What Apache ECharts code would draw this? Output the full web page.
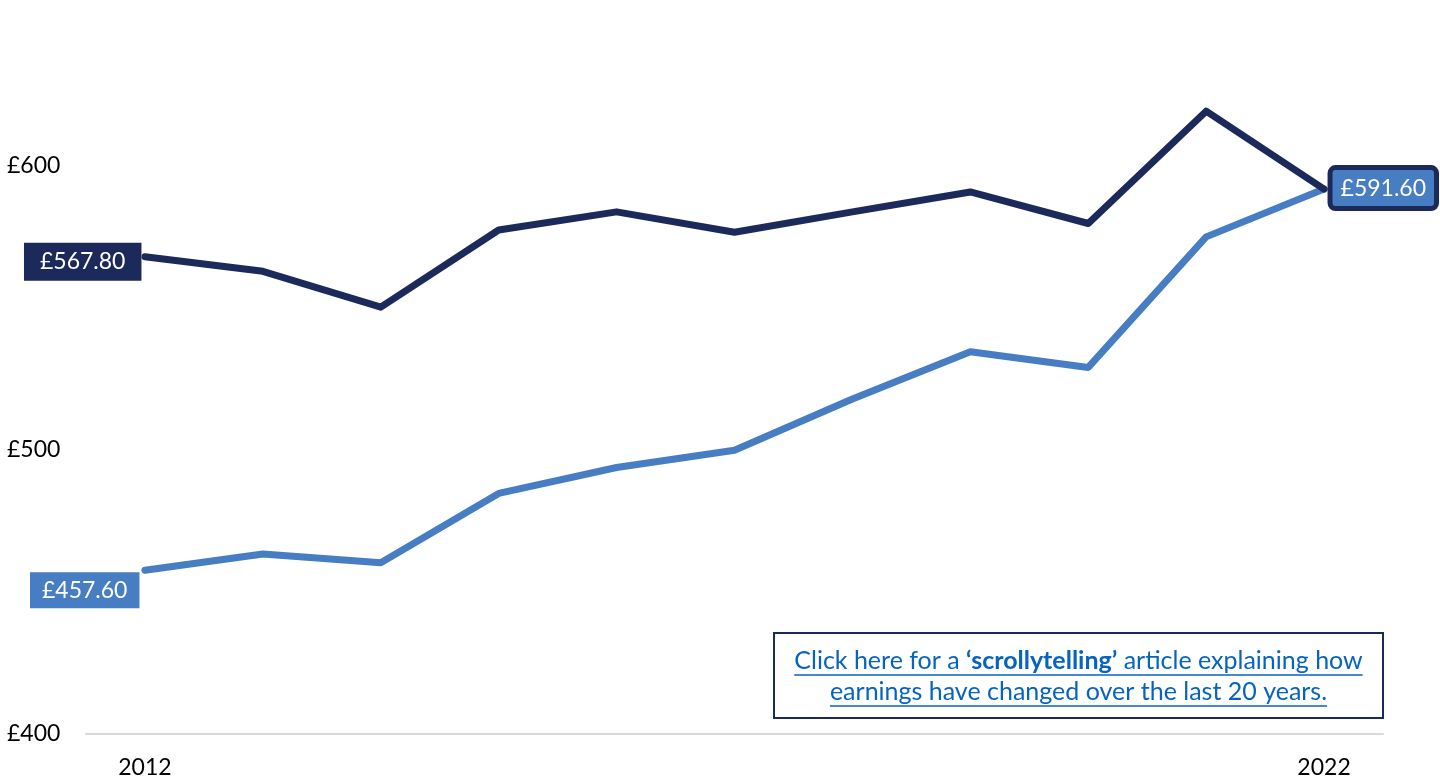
<!DOCTYPE html>
<html lang="en">
<head>
    <meta charset="UTF-8">
    <title>Weekly earnings</title>
    <style>
        * { padding: 0; margin: 0; }
        html, body { background: #ffffff; }
        #myChart { width: 1440px; height: 782px; }
    </style>
    <script src="https://cdn.jsdelivr.net/npm/echarts@6/dist/echarts.min.js"></script>
</head>
<body>
    <div id="myChart"></div>
    <script>
        // data
        const years = ['2012', '2013', '2014', '2015', '2016', '2017', '2018', '2019', '2020', '2021', '2022'];
        const darkValues = [567.8, 562.7, 550.1, 577.2, 583.6, 576.4, 583.6, 590.6, 579.5, 619.0, 591.6];
        const lightValues = [457.6, 463.3, 460.2, 484.6, 493.7, 499.8, 517.8, 534.4, 528.9, 574.8, 591.6];
        const yTicks = [400, 500, 600];

        const DARK = '#1c2a5b';
        const LIGHT = '#477dc2';
        const LINK = '#0563c1';
        const FONT = 'Lato';

        const fmt = v => '£' + v.toFixed(2);

        // which points carry a value box
        const darkLabels = {
            0: { position: 'left', distance: 3, offset: [0, 5], backgroundColor: DARK, padding: [7, 16, 5, 16] }
        };
        const lightLabels = {
            0: { position: 'left', distance: 5, offset: [0, 20], backgroundColor: LIGHT, padding: [6, 12, 4, 12] },
            10: { position: 'right', distance: 8, offset: [0, -1], backgroundColor: LIGHT, borderColor: DARK, borderWidth: 5,
                  borderRadius: 3, padding: [6, 8, 4, 8] }
        };

        function buildData(values, labels) {
            return values.map((v, i) => {
                if (!labels[i]) return v;
                return {
                    value: v,
                    label: Object.assign({
                        show: true,
                        formatter: p => fmt(p.value),
                        color: '#ffffff',
                        fontFamily: FONT,
                        fontSize: 23,
                        lineHeight: 26
                    }, labels[i])
                };
            });
        }

        // underline helper for the link box
        const ctx = document.createElement('canvas').getContext('2d');
        const LINK_SIZE = 25;
        function textWidth(str, weight) {
            ctx.font = weight + ' ' + LINK_SIZE + 'px ' + FONT;
            return ctx.measureText(str).width;
        }
        const line1 = ['Click here for a ', '‘scrollytelling’', ' article explaining how'];
        const line2 = 'earnings have changed over the last 20 years.';
        const w1 = textWidth(line1[0], 'normal') + textWidth(line1[1], 'bold') + textWidth(line1[2], 'normal');
        const w2 = textWidth(line2, 'normal');
        const boxCx = 1078.5;

        let myChart = echarts.init(document.getElementById('myChart'));
        let option = {
            backgroundColor: '#ffffff',
            animation: false,
            grid: {
                left: 86,
                right: 57,
                top: 23,
                bottom: 48
            },
            xAxis: {
                type: 'category',
                data: years,
                boundaryGap: true,
                axisLine: { lineStyle: { color: '#d9d9d9', width: 2 } },
                axisTick: { show: false },
                axisLabel: {
                    interval: (i) => i === 0 || i === years.length - 1,
                    color: '#000000',
                    fontFamily: FONT,
                    fontSize: 23,
                    margin: 22
                }
            },
            yAxis: {
                type: 'value',
                min: yTicks[0],
                max: 650,
                interval: yTicks[1] - yTicks[0],
                axisLine: { show: false },
                axisTick: { show: false },
                splitLine: { show: false },
                axisLabel: {
                    showMaxLabel: false,
                    align: 'left',
                    margin: 79,
                    color: '#000000',
                    fontFamily: FONT,
                    fontSize: 23,
                    formatter: v => yTicks.indexOf(v) >= 0 ? '£' + v : ''
                }
            },
            series: [{
                    name: 'Lower',
                    type: 'line',
                    data: buildData(lightValues, lightLabels),
                    symbol: 'circle',
                    symbolSize: 1,
                    showSymbol: true,
                    itemStyle: { color: LIGHT },
                    lineStyle: { color: LIGHT, width: 7, cap: 'round', join: 'round' },
                    z: 2
                },
                {
                    name: 'Upper',
                    type: 'line',
                    data: buildData(darkValues, darkLabels),
                    symbol: 'circle',
                    symbolSize: 1,
                    showSymbol: true,
                    itemStyle: { color: DARK },
                    lineStyle: { color: DARK, width: 7, cap: 'round', join: 'round' },
                    z: 3
                }
            ],
            graphic: [{
                    type: 'rect',
                    shape: { x: 774, y: 633, width: 609, height: 85 },
                    style: { fill: '#ffffff', stroke: DARK, lineWidth: 2 },
                    z: 10
                },
                {
                    type: 'text',
                    x: boxCx,
                    y: 661,
                    style: {
                        text: '{n|' + line1[0] + '}{b|' + line1[1] + '}{n|' + line1[2] + '}',
                        align: 'center',
                        verticalAlign: 'middle',
                        fill: LINK,
                        rich: {
                            n: { fontFamily: FONT, fontSize: LINK_SIZE, fill: LINK },
                            b: { fontFamily: FONT, fontSize: LINK_SIZE, fontWeight: 'bold', fill: LINK }
                        }
                    },
                    z: 11
                },
                {
                    type: 'text',
                    x: boxCx,
                    y: 692,
                    style: {
                        text: line2,
                        align: 'center',
                        verticalAlign: 'middle',
                        fontFamily: FONT,
                        fontSize: LINK_SIZE,
                        fill: LINK
                    },
                    z: 11
                },
                {
                    type: 'line',
                    shape: { x1: boxCx - w1 / 2, y1: 675, x2: boxCx + w1 / 2, y2: 675 },
                    style: { stroke: LINK, lineWidth: 1.5 },
                    z: 11
                },
                {
                    type: 'line',
                    shape: { x1: boxCx - w2 / 2, y1: 706, x2: boxCx + w2 / 2, y2: 706 },
                    style: { stroke: LINK, lineWidth: 1.5 },
                    z: 11
                }
            ]
        };
        myChart.setOption(option, true);
    </script>
</body>
</html>
